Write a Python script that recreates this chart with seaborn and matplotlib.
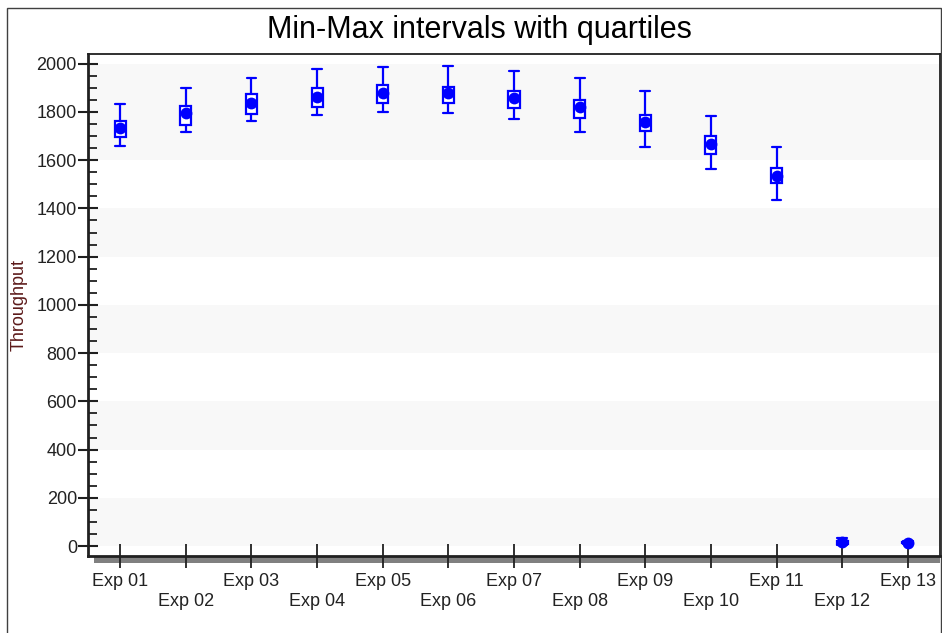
import matplotlib
matplotlib.use("Agg")
import matplotlib.pyplot as plt
from matplotlib.patches import Rectangle
import seaborn as sns
import pandas as pd
import numpy as np

# Values
experiments = [f"Exp {i:02d}" for i in range(1, 14)]
mins = [1658, 1715, 1761, 1788, 1798, 1794, 1770, 1715, 1654, 1562, 1434, 4, 8]
q1s = [1695, 1747, 1793, 1822, 1838, 1838, 1815, 1776, 1722, 1627, 1504, 10, 11]
q3s = [1762, 1826, 1873, 1897, 1910, 1904, 1886, 1848, 1786, 1700, 1566, 22, 17]
maxs = [1832, 1897, 1942, 1976, 1987, 1991, 1969, 1940, 1885, 1783, 1654, 34, 20]
means = [1732, 1794, 1838, 1863, 1877, 1880, 1856, 1822, 1759, 1667, 1534, 15, 14]

# shaded horizontal bands in the background
band_spans = [(0, 200), (400, 600), (800, 1000), (1200, 1400), (1600, 2000)]

# five-number table per experiment -> boxplot with whis=inf gives min/max whiskers
rows = []
for exp, lo, a, m, b, hi in zip(experiments, mins, q1s, means, q3s, maxs):
    for v in (lo, a, m, b, hi):
        rows.append({"experiment": exp, "throughput": v})
df = pd.DataFrame(rows)
df_mean = pd.DataFrame({"experiment": experiments, "throughput": means})

sns.set_style("white")
plt.rcParams["font.family"] = ["Liberation Sans", "DejaVu Sans"]

fig = plt.figure(figsize=(9.42, 6.33), dpi=100)
ax = fig.add_axes([88 / 942, 1 - 556 / 633, 852 / 942, 502 / 633])

for lo, hi in band_spans:
    ax.axhspan(lo, hi, color="#f8f8f8", zorder=0, lw=0)

blue = "#0000ff"
sns.boxplot(data=df, x="experiment", y="throughput", order=experiments, ax=ax,
            whis=np.inf, width=0.17, color="white", linecolor=blue, linewidth=1.6,
            saturation=1, showfliers=False, capwidths=0.15, zorder=3)
sns.stripplot(data=df_mean, x="experiment", y="throughput", order=experiments, ax=ax,
              jitter=False, color=blue, size=8.5, edgecolor=blue, linewidth=0,
              zorder=4)

ax.set_xlim(-0.49, 12.49)
ax.set_ylim(-41, 2040)
ax.set_yticks(range(0, 2001, 200))
ax.set_yticks(range(0, 2001, 50), minor=True)
ax.set_xlabel("")
ax.set_ylabel("Throughput", fontsize=13, color="#5c1a1a")
ax.yaxis.set_label_coords(-0.071, 0.5)

ax.tick_params(axis="y", which="major", direction="inout", length=14, width=1.5,
               color="#202020", labelsize=13, labelcolor="#222222", left=True, pad=1)
ax.tick_params(axis="y", which="minor", direction="in", length=6.5, width=1.3,
               color="#202020", left=True)
ax.tick_params(axis="x", which="major", direction="inout", length=17, width=1.3,
               color="#202020", labelsize=13, labelcolor="#222222", bottom=True)

# alternate the x labels over two rows
for i, tick in enumerate(ax.xaxis.get_major_ticks()):
    tick.set_pad(3.5 if i % 2 == 0 else 18.5)

for side in ("left", "bottom"):
    ax.spines[side].set_linewidth(2)
    ax.spines[side].set_color("#202020")
for side in ("top", "right"):
    ax.spines[side].set_linewidth(1.3)
    ax.spines[side].set_color("#202020")

# drop shadow under the x axis
fig.patches.append(Rectangle((94 / 942, 1 - 563 / 633), 846 / 942, 6 / 633,
                             transform=fig.transFigure, facecolor="#808080",
                             edgecolor="none", zorder=-1))
# outer frame
fig.patches.append(Rectangle((7 / 942, -0.02), 934 / 942, 1.02 - 8 / 633,
                             transform=fig.transFigure, facecolor="none",
                             edgecolor="#404040", lw=1, zorder=-2))

fig.text(479 / 942, 1 - 30 / 633, "Min-Max intervals with quartiles",
         ha="center", va="center", fontsize=22, color="black")

fig.savefig("out.png", dpi=100)
